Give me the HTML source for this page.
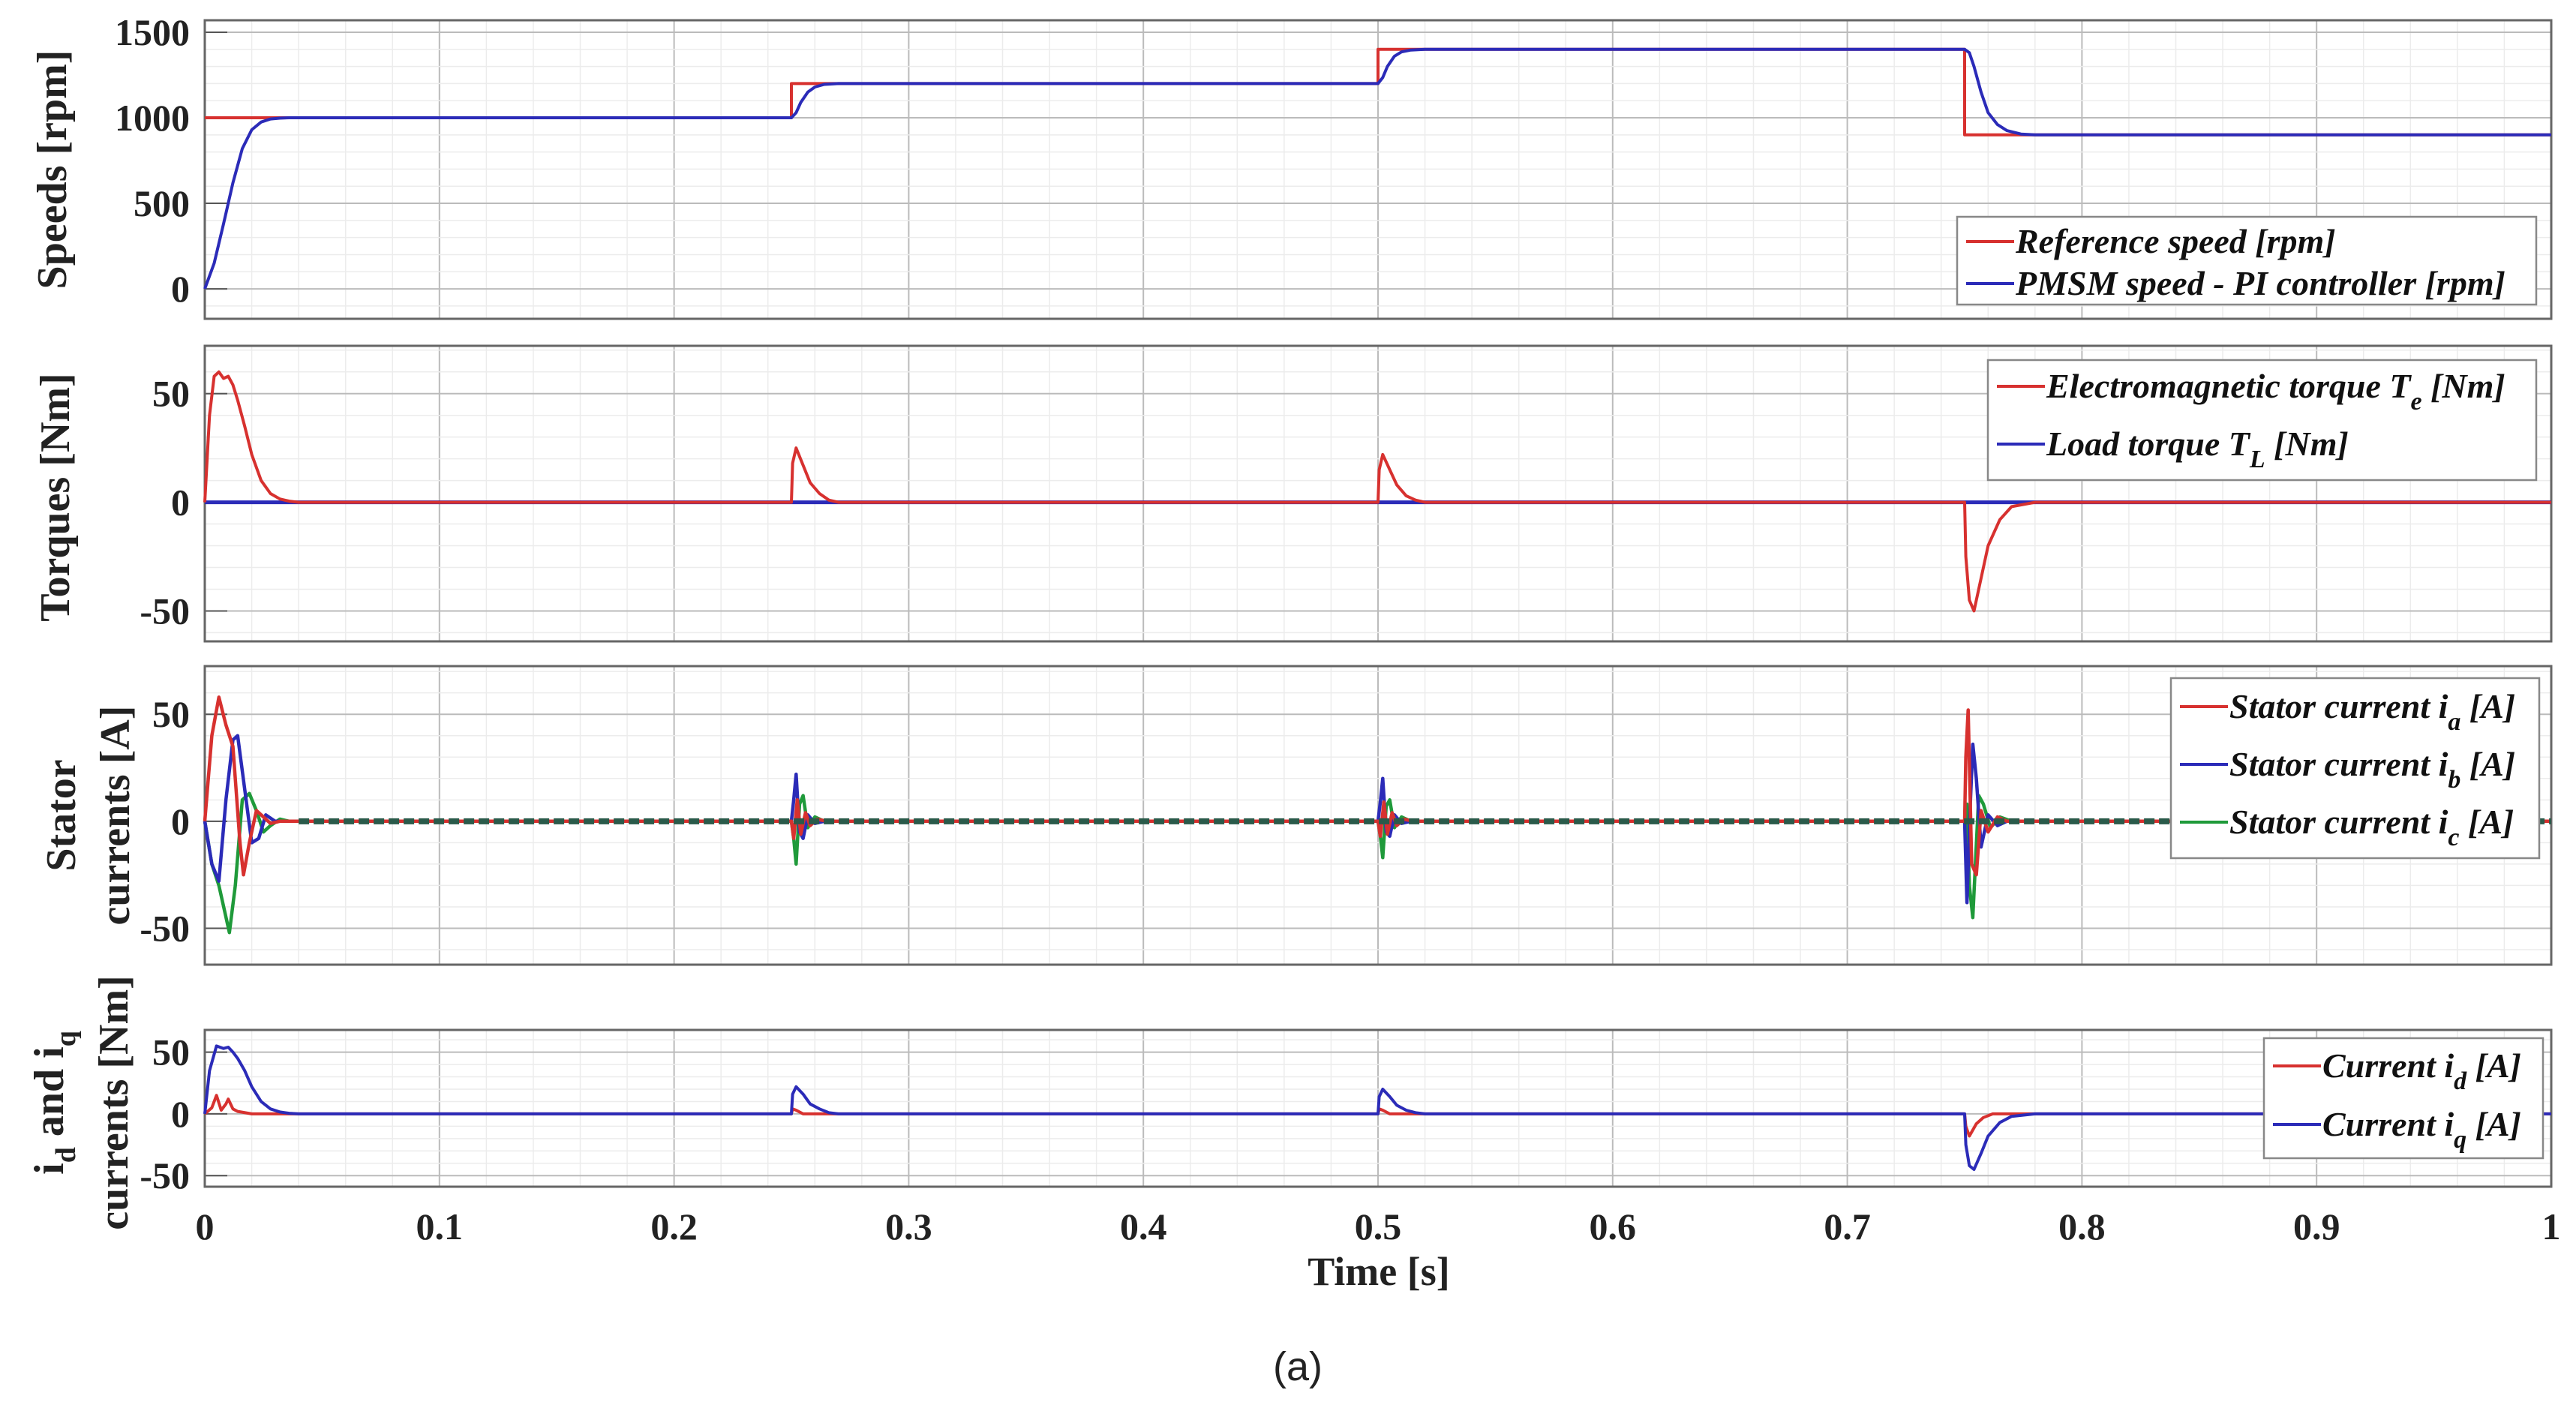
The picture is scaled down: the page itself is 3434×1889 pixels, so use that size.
<!DOCTYPE html>
<html><head><meta charset="utf-8">
<style>
body{margin:0;background:#fff;}
svg{display:block;}
text{font-family:"Liberation Serif",serif;}
.tick{font-size:50px;font-weight:bold;fill:#222;}
.ylab{font-size:56px;font-weight:bold;fill:#222;}
.leg{font-size:46px;font-weight:bold;font-style:italic;fill:#111;}
</style></head>
<body>
<svg id="chart" width="3434" height="1889" viewBox="0 0 3434 1889" xmlns="http://www.w3.org/2000/svg">
<rect width="3434" height="1889" fill="#fff"/>
<g id="plots"></g>
<text x="1838" y="1713" text-anchor="middle" class="ylab" style="font-size:54px">Time [s]</text>
<text x="1730" y="1840" text-anchor="middle" style="font-family:'Liberation Sans',sans-serif;font-size:54px;fill:#222">(a)</text>
</svg>
<script>
// ---- data ----
const xTicks=[0,0.1,0.2,0.3,0.4,0.5,0.6,0.7,0.8,0.9,1];
const xTickLabels=["0","0.1","0.2","0.3","0.4","0.5","0.6","0.7","0.8","0.9","1"];
const speedTicks=[0,500,1000,1500];
const torqueTicks=[-50,0,50];
const currentTicks=[-50,0,50];
const dqTicks=[-50,0,50];

const refSpeedT=[0,0.25,0.25,0.5,0.5,0.75,0.75,1];
const refSpeedV=[1000,1000,1200,1200,1400,1400,900,900];
const pmsmSpeedT=[0,0.004,0.008,0.012,0.016,0.02,0.024,0.028,0.032,0.036,0.04,0.25,0.252,0.254,0.257,0.26,0.264,0.27,0.5,0.502,0.504,0.507,0.51,0.514,0.52,0.75,0.752,0.754,0.757,0.76,0.764,0.768,0.774,0.78,1];
const pmsmSpeedV=[0,150,380,620,820,930,975,993,998,1000,1000,1000,1030,1090,1150,1180,1195,1200,1200,1235,1300,1360,1385,1396,1400,1400,1380,1300,1150,1030,960,925,905,900,900];

const teT=[0,0.002,0.004,0.006,0.008,0.01,0.012,0.014,0.017,0.02,0.024,0.028,0.032,0.036,0.04,0.25,0.2505,0.252,0.255,0.258,0.262,0.266,0.27,0.5,0.5005,0.502,0.505,0.508,0.512,0.516,0.52,0.75,0.7505,0.752,0.754,0.757,0.76,0.765,0.77,0.78,1];
const teV=[0,40,58,60,57,58,54,47,35,22,10,4,1.5,0.5,0,0,18,25,17,9,4,1,0,0,15,22,15,8,3,1,0,0,-25,-45,-50,-35,-20,-8,-2,0,0];
const tlT=[0,1];
const tlV=[0,0];

const iaT=[0,0.003,0.006,0.009,0.012,0.015,0.0165,0.019,0.022,0.025,0.028,0.032,0.036,0.25,0.251,0.2525,0.254,0.256,0.258,0.261,0.265,0.5,0.501,0.5025,0.504,0.506,0.508,0.511,0.515,0.75,0.7505,0.7515,0.753,0.755,0.757,0.76,0.764,0.768,1];
const iaV=[0,40,58,45,35,-10,-25,-10,5,2,-1,0,0,0,-8,10,-6,4,-2,1,0,0,-7,9,-6,4,-2,1,0,0,30,52,-20,-25,5,-5,2,0,0];
const ibT=[0,0.003,0.006,0.009,0.012,0.014,0.017,0.02,0.023,0.026,0.03,0.036,0.25,0.251,0.252,0.2535,0.255,0.257,0.26,0.264,0.5,0.501,0.502,0.5035,0.505,0.507,0.51,0.514,0.75,0.751,0.7525,0.7535,0.755,0.757,0.76,0.764,0.768,1];
const ibV=[0,-20,-28,10,38,40,15,-10,-8,3,0,0,0,10,22,-5,-8,3,-1,0,0,9,20,-5,-7,3,-1,0,0,-38,10,36,20,-12,3,-2,0,0];
const icT=[0,0.003,0.006,0.0105,0.013,0.016,0.019,0.022,0.025,0.028,0.032,0.036,0.25,0.251,0.252,0.2535,0.255,0.257,0.26,0.264,0.5,0.501,0.502,0.5035,0.505,0.507,0.51,0.514,0.75,0.751,0.752,0.7535,0.756,0.758,0.761,0.765,0.77,1];
const icV=[0,-20,-30,-52,-30,10,13,5,-5,-2,1,0,0,-8,-20,8,12,-3,2,0,0,-7,-17,7,10,-3,2,0,0,8,-30,-45,12,8,-3,2,0,0];

const idT=[0,0.003,0.005,0.007,0.009,0.01,0.012,0.014,0.02,0.25,0.2505,0.252,0.255,0.5,0.5005,0.502,0.505,0.75,0.7505,0.752,0.755,0.758,0.762,1];
const idV=[0,5,15,3,8,12,4,2,0,0,4,3,0,0,4,3,0,0,-10,-18,-8,-3,0,0];
const iqT=[0,0.002,0.005,0.008,0.01,0.012,0.014,0.017,0.02,0.024,0.028,0.032,0.036,0.04,0.25,0.2505,0.252,0.255,0.258,0.262,0.266,0.27,0.5,0.5005,0.502,0.505,0.508,0.512,0.516,0.52,0.75,0.7505,0.752,0.754,0.757,0.76,0.765,0.77,0.78,1];
const iqV=[0,35,55,53,54,50,45,35,22,10,4,1.5,0.5,0,0,16,22,16,8,4,1,0,0,14,20,14,7,3,1,0,0,-25,-42,-45,-32,-18,-7,-2,0,0];

// ---- layout ----
const X0=273,X1=3401;
const panels=[
 {name:"speed",top:27,bot:425,ymin:-175,ymax:1570,ticks:speedTicks,minor:100},
 {name:"torque",top:461,bot:855,ymin:-64,ymax:72,ticks:torqueTicks,minor:10},
 {name:"stator",top:888,bot:1286,ymin:-67,ymax:72.5,ticks:currentTicks,minor:10},
 {name:"dq",top:1373,bot:1582,ymin:-59,ymax:68,ticks:dqTicks,minor:10}
];
const NS="http://www.w3.org/2000/svg";
const G=document.getElementById('plots');
function mk(tag,attrs,parent){const e=document.createElementNS(NS,tag);for(const k in attrs)e.setAttribute(k,attrs[k]);(parent||G).appendChild(e);return e;}
function xs(t){return X0+(X1-X0)*t;}
function ysFor(p){return v=>p.bot-(v-p.ymin)/(p.ymax-p.ymin)*(p.bot-p.top);}

panels.forEach(p=>{
  const g=mk('g',{});
  
  
  const ys=ysFor(p);
  for(let i=0;i<=50;i++){const x=xs(i/50);
    const l=mk('line',{x1:x,x2:x,y1:p.top,y2:p.bot,stroke:i%5==0?'#bbb':'#ececec','stroke-width':i%5==0?2:1.5},g);
    }
  const start=Math.ceil(p.ymin/p.minor)*p.minor;
  for(let v=start;v<=p.ymax;v+=p.minor){
    const major=p.ticks.includes(v);
    const l=mk('line',{x1:X0,x2:X1,y1:ys(v),y2:ys(v),stroke:major?'#bbb':'#ececec','stroke-width':major?2:1.5},g);
    }
  p.ticks.forEach(v=>{
    const t=mk('text',{x:X0-20,y:ys(v)+17,'text-anchor':'end',class:'tick'},g);t.textContent=v;
    
    mk('line',{x1:X0,x2:X0+30,y1:ys(v),y2:ys(v),stroke:'#555','stroke-width':2},g);
  });
  const b=mk('rect',{x:X0,y:p.top,width:X1-X0,height:p.bot-p.top,fill:'none',stroke:'#666','stroke-width':3},g);
  
  p.g=g;p.ys=ys;
});

function series(pi,T,V,color,name,w){
  const p=panels[pi];
  const pts=T.map((t,i)=>xs(t).toFixed(1)+','+p.ys(V[i]).toFixed(1)).join(' ');
  const e=mk('polyline',{points:pts,fill:'none',stroke:color,'stroke-width':w||4,'stroke-linejoin':'round'},p.g);
  
  
}
const RED='#d7312f',BLUE='#2b2bb8',GREEN='#1f9a3a';
series(0,refSpeedT,refSpeedV,RED,'reference-speed-line');
series(0,pmsmSpeedT,pmsmSpeedV,BLUE,'pmsm-speed-line');
series(1,tlT,tlV,BLUE,'load-torque-line',5);
series(1,teT,teV,RED,'electromagnetic-torque-line');
series(2,icT,icV,GREEN,'stator-current-ic-line',4.5);
series(2,ibT,ibV,BLUE,'stator-current-ib-line',4.5);
series(2,iaT,iaV,RED,'stator-current-ia-line',4.5);
// steady-state ripple band (dense overlap of the three phases)
const band=mk('line',{x1:xs(0.04),x2:X1,y1:panels[2].ys(0),y2:panels[2].ys(0),stroke:'#2a5a4a','stroke-width':8,'stroke-dasharray':'14 6'},panels[2].g);


series(3,idT,idV,RED,'current-id-line');
series(3,iqT,iqV,BLUE,'current-iq-line');

// x tick labels
xTicks.forEach((t,i)=>{
  const e=mk('text',{x:xs(t),y:1652,'text-anchor':'middle',class:'tick'});
  e.textContent=xTickLabels[i];
  
  
});

// legends
function legend(name,x,y,w,h,items){
  const g=mk('g',{});
  
  
  mk('rect',{x:x,y:y,width:w,height:h,fill:'#fff',stroke:'#888','stroke-width':2.5},g);
  items.forEach(it=>{
    mk('line',{x1:x+12,x2:x+76,y1:it.y,y2:it.y,stroke:it.c,'stroke-width':4},g);
    const t=mk('text',{x:x+78,y:it.y+15,class:'leg'},g);
    t.innerHTML=it.html;
    
    
  });
}
const sub=s=>'<tspan dy="16" font-size="34">'+s+'</tspan><tspan dy="-16"> </tspan>';
legend('speed-legend',2609,289,772,117,[{y:322,c:RED,html:'Reference speed [rpm]'},{y:378,c:BLUE,html:'PMSM speed - PI controller [rpm]'}]);
legend('torque-legend',2650,480,731,160,[{y:515,c:RED,html:'Electromagnetic torque T'+sub('e')+'[Nm]'},{y:592,c:BLUE,html:'Load torque T'+sub('L')+'[Nm]'}]);
legend('stator-current-legend',2894,904,491,240,[{y:942,c:RED,html:'Stator current i'+sub('a')+'[A]'},{y:1019,c:BLUE,html:'Stator current i'+sub('b')+'[A]'},{y:1096,c:GREEN,html:'Stator current i'+sub('c')+'[A]'}]);
legend('dq-current-legend',3018,1384,372,160,[{y:1421,c:RED,html:'Current i'+sub('d')+'[A]'},{y:1499,c:BLUE,html:'Current i'+sub('q')+'[A]'}]);

// y-axis titles
function ylab(name,cx,cy,html){
  const t=mk('text',{x:0,y:0,'text-anchor':'middle',class:'ylab',transform:`translate(${cx},${cy}) rotate(-90)`});
  t.innerHTML=html;
  
  
}
ylab('speed-y-axis-title',88,226,'Speeds [rpm]');
ylab('torque-y-axis-title',92,663,'Torques [Nm]');
ylab('stator-y-axis-title-line1',100,1087,'Stator');
ylab('stator-y-axis-title-line2',172,1087,'currents [A]');
ylab('dq-y-axis-title-line1',84,1470,'i<tspan dy="16" font-size="38">d</tspan><tspan dy="-16"> and i</tspan><tspan dy="16" font-size="38">q</tspan>');
ylab('dq-y-axis-title-line2',170,1470,'currents [Nm]');
</script>
</body></html>
